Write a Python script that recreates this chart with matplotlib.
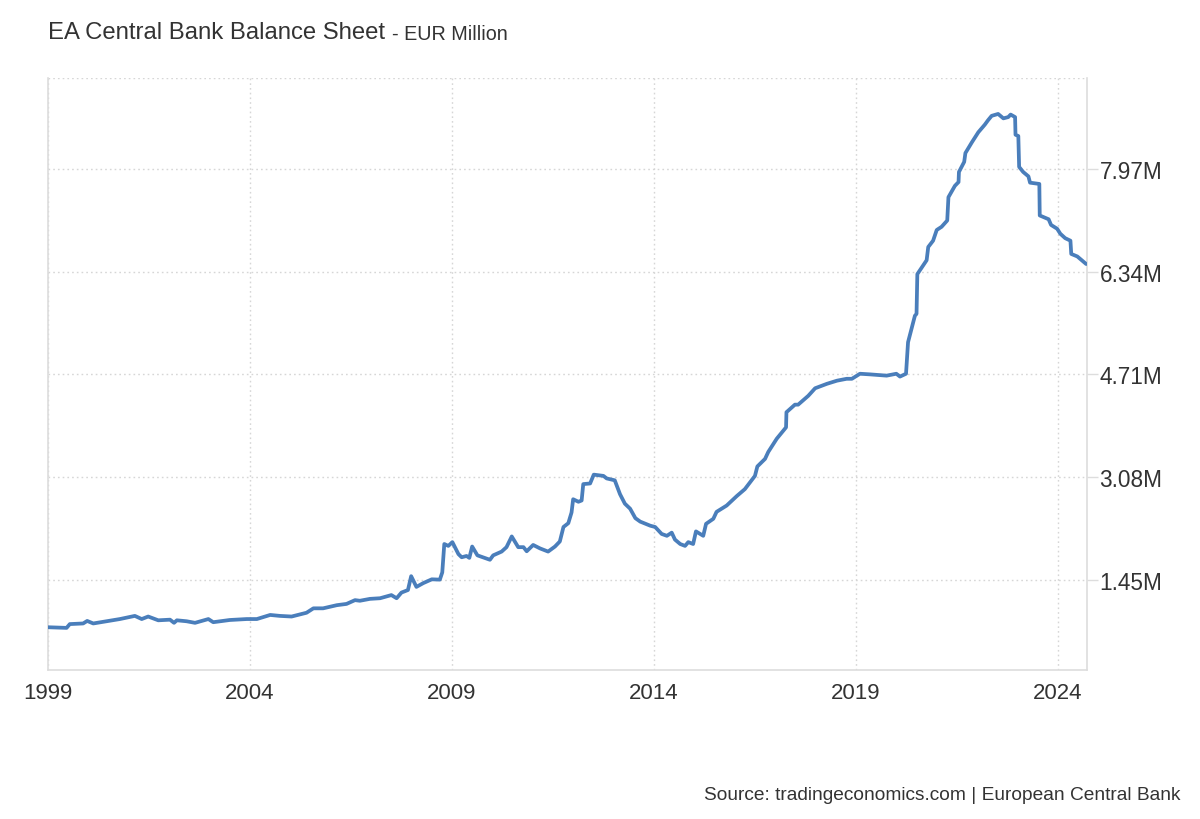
import numpy as np
import matplotlib
matplotlib.use("Agg")
import matplotlib.pyplot as plt
from matplotlib.ticker import FixedLocator, FixedFormatter

plt.rcParams['font.family'] = ['Liberation Sans', 'DejaVu Sans']

title = "EA Central Bank Balance Sheet"
subtitle = "- EUR Million"
source = "Source: tradingeconomics.com | European Central Bank"

# decimal year
dates = [
    1999.00, 1999.46, 1999.54, 1999.87, 1999.97, 2000.12, 2000.45, 2000.78, 2001.15, 2001.32,
    2001.48, 2001.73, 2002.02, 2002.12, 2002.19, 2002.43, 2002.64, 2002.97, 2003.09, 2003.50,
    2003.92, 2004.17, 2004.50, 2004.74, 2005.03, 2005.40, 2005.57, 2005.81, 2006.15, 2006.39,
    2006.60, 2006.72, 2006.97, 2007.22, 2007.50, 2007.63, 2007.75, 2007.91, 2007.99, 2008.12,
    2008.29, 2008.50, 2008.70, 2008.76, 2008.81, 2008.91, 2009.01, 2009.16, 2009.24, 2009.36,
    2009.43, 2009.50, 2009.63, 2009.94, 2010.02, 2010.23, 2010.35, 2010.48, 2010.64, 2010.77,
    2010.85, 2011.01, 2011.18, 2011.38, 2011.55, 2011.67, 2011.76, 2011.88, 2011.96, 2012.00,
    2012.13, 2012.21, 2012.25, 2012.42, 2012.51, 2012.75, 2012.83, 2013.03, 2013.16, 2013.28,
    2013.41, 2013.54, 2013.66, 2013.91, 2014.03, 2014.19, 2014.32, 2014.44, 2014.52, 2014.65,
    2014.77, 2014.85, 2014.97, 2015.04, 2015.14, 2015.22, 2015.29, 2015.47, 2015.55, 2015.80,
    2016.05, 2016.25, 2016.50, 2016.56, 2016.75, 2016.83, 2017.04, 2017.27, 2017.28, 2017.49,
    2017.57, 2017.82, 2017.99, 2018.28, 2018.53, 2018.77, 2018.90, 2019.10, 2019.35, 2019.76,
    2020.00, 2020.09, 2020.24, 2020.29, 2020.46, 2020.50, 2020.52, 2020.75, 2020.79, 2020.91,
    2021.00, 2021.12, 2021.26, 2021.29, 2021.45, 2021.54, 2021.55, 2021.68, 2021.71, 2021.87,
    2022.03, 2022.19, 2022.27, 2022.36, 2022.52, 2022.65, 2022.77, 2022.83, 2022.94, 2022.95,
    2023.02, 2023.04, 2023.14, 2023.27, 2023.31, 2023.54, 2023.55, 2023.77, 2023.83, 2023.98,
    2024.06, 2024.18, 2024.31, 2024.33, 2024.48, 2024.70,
]

# EUR million
values = [
    700000, 690000, 750000, 760000, 800000, 760000, 795000, 830000, 880000, 830000,
    870000, 810000, 820000, 770000, 810000, 795000, 770000, 830000, 780000, 815000,
    830000, 830000, 895000, 880000, 870000, 930000, 1000000, 1000000, 1050000, 1070000,
    1130000, 1120000, 1150000, 1160000, 1210000, 1160000, 1250000, 1290000, 1510000, 1340000,
    1400000, 1460000, 1455000, 1570000, 2020000, 1990000, 2050000, 1860000, 1810000, 1830000,
    1800000, 1980000, 1840000, 1770000, 1840000, 1900000, 1970000, 2140000, 1970000, 1970000,
    1905000, 2005000, 1950000, 1900000, 1980000, 2060000, 2290000, 2350000, 2520000, 2730000,
    2690000, 2710000, 2970000, 2980000, 3120000, 3100000, 3060000, 3030000, 2810000, 2660000,
    2580000, 2430000, 2375000, 2310000, 2290000, 2180000, 2150000, 2200000, 2090000, 2020000,
    1990000, 2050000, 2020000, 2220000, 2180000, 2150000, 2340000, 2420000, 2530000, 2630000,
    2780000, 2890000, 3100000, 3250000, 3370000, 3480000, 3690000, 3870000, 4110000, 4230000,
    4230000, 4370000, 4490000, 4560000, 4610000, 4640000, 4640000, 4720000, 4710000, 4690000,
    4720000, 4675000, 4720000, 5220000, 5640000, 5670000, 6300000, 6520000, 6730000, 6830000,
    7000000, 7050000, 7150000, 7520000, 7700000, 7760000, 7920000, 8080000, 8220000, 8390000,
    8550000, 8670000, 8740000, 8810000, 8840000, 8770000, 8790000, 8830000, 8790000, 8510000,
    8490000, 8000000, 7920000, 7850000, 7750000, 7730000, 7230000, 7170000, 7080000, 7020000,
    6940000, 6870000, 6830000, 6620000, 6580000, 6460000,
]

x_ticks = [1999, 2004, 2009, 2014, 2019, 2024]
x_tick_labels = ["1999", "2004", "2009", "2014", "2019", "2024"]
y_ticks = [1450000, 3080000, 4710000, 6340000, 7970000]
y_tick_labels = ["1.45M", "3.08M", "4.71M", "6.34M", "7.97M"]

fig = plt.figure(figsize=(12, 8.2), dpi=100)
ax = fig.add_axes([48/1200, 1-671/820, (1087-48)/1200, (671-79)/820])

ax.plot(dates, values, color='#4a7ebb', linewidth=2.7, solid_joinstyle='round',
        solid_capstyle='round', zorder=3)

ax.set_xlim(1999.0, 2024.72)
ax.set_ylim(22000, 9410000)

ax.xaxis.set_major_locator(FixedLocator(x_ticks))
ax.xaxis.set_major_formatter(FixedFormatter(x_tick_labels))
ax.yaxis.set_major_locator(FixedLocator(y_ticks))
ax.yaxis.set_major_formatter(FixedFormatter(y_tick_labels))
ax.yaxis.tick_right()

grid_kw = dict(color='#d6d6d6', linewidth=1.0, linestyle=(0, (1.2, 2.2)))
ax.grid(True, which='major', **grid_kw)
ax.axhline(9410000, **grid_kw)

for side in ['left', 'bottom', 'right']:
    ax.spines[side].set_color('#dddddd')
    ax.spines[side].set_linewidth(1.2)
ax.spines['top'].set_visible(False)

ax.tick_params(axis='x', length=0, pad=9, labelsize=16, labelcolor='#333333')
ax.tick_params(axis='y', which='major', right=True, left=False, length=8, width=1,
               color='#dddddd', pad=1, labelsize=16.3, labelcolor='#333333')

fig.text(48/1200, 1-33/820, title, fontsize=17.2, color='#333333', va='center', ha='left')
fig.text(392/1200, 1-34/820, subtitle, fontsize=14.2, color='#333333', va='center', ha='left')
fig.text(1180/1200, 1-796/820, source, fontsize=13.8, color='#333333', va='center', ha='right')

fig.savefig("out.png", dpi=100, facecolor='white')
